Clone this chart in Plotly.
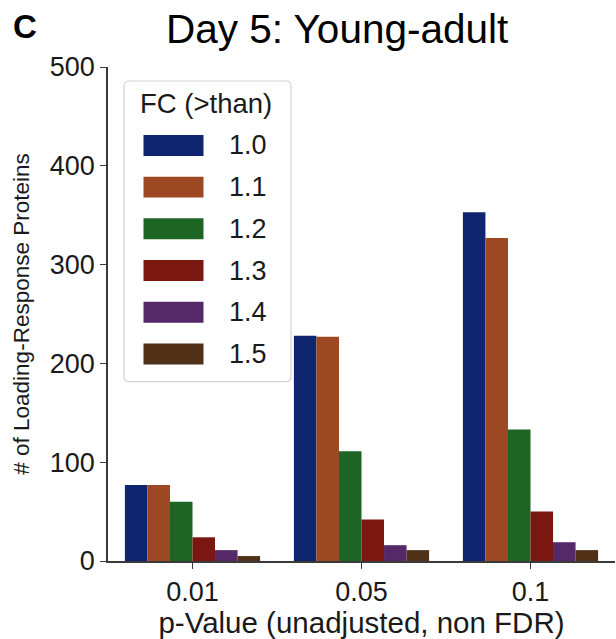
import plotly.graph_objects as go

# ---- data ----
categories = ["0.01", "0.05", "0.1"]
fc_labels = ["1.0", "1.1", "1.2", "1.3", "1.4", "1.5"]
fc_1_0 = [77, 228, 353]
fc_1_1 = [77, 227, 327]
fc_1_2 = [60, 111, 133]
fc_1_3 = [24, 42, 50]
fc_1_4 = [11, 16, 19]
fc_1_5 = [5, 11, 11]
series = [fc_1_0, fc_1_1, fc_1_2, fc_1_3, fc_1_4, fc_1_5]
colors = ["#10256f", "#9c4822", "#1e6525", "#7b1711", "#552867", "#503016"]
y_ticks = [0, 100, 200, 300, 400, 500]

# ---- geometry (pixels) ----
W, H = 616, 639
L, R, T, B = 108, 615, 67, 561.5
FONT = "Liberation Sans, Arial, sans-serif"
TXT = "#1a1a1a"


def px_x(x):
    return (x - L) / (R - L)


def px_y(y):
    return (B - y) / (B - T)


fig = go.Figure()
for name, vals, col in zip(fc_labels, series, colors):
    fig.add_trace(go.Bar(x=categories, y=vals, name=name, marker_color=col,
                         marker_line_width=0, showlegend=False))

fig.update_layout(
    width=W, height=H,
    margin=dict(l=L, r=W - R, t=T, b=H - B, pad=0),
    paper_bgcolor="white", plot_bgcolor="white",
    barmode="group", bargap=0.2, bargroupgap=0,
    font=dict(family=FONT, color=TXT, size=27),
)
fig.update_xaxes(
    type="category", range=[-0.5, 2.5], showgrid=False, zeroline=False,
    showline=True, linecolor="#3a3a3a", linewidth=1.6,
    ticks="outside", ticklen=6, tickwidth=1.4, tickcolor="#3a3a3a",
    tickfont=dict(size=27, color=TXT),
    title=dict(text="p-Value (unadjusted, non FDR)", font=dict(size=29.5, color=TXT), standoff=2),
)
fig.update_yaxes(
    range=[0, 500], tickvals=y_ticks, showgrid=False, zeroline=False,
    showline=True, linecolor="#3a3a3a", linewidth=1.6,
    ticks="outside", ticklen=6, tickwidth=1.4, tickcolor="#3a3a3a",
    tickfont=dict(size=27, color=TXT),
    title=dict(text="# of Loading-Response Proteins", font=dict(size=22.5, color=TXT), standoff=14),
)

annotations = []
shapes = []

# Title
annotations.append(dict(text="Day 5: Young-adult", xref="paper", yref="paper",
                        x=px_x(336.5), y=px_y(29), xanchor="center", yanchor="middle",
                        showarrow=False, font=dict(size=40.5, color="#000000")))
# Panel letter
annotations.append(dict(text="<b>C</b>", xref="paper", yref="paper",
                        x=px_x(25), y=px_y(26), xanchor="center", yanchor="middle",
                        showarrow=False, font=dict(size=33, color="#000000")))

# Custom legend box (rounded)
bx0, bx1, by0, by1, r = 124, 291, 81, 382, 5
rx = r / (R - L)
ry = r / (B - T)
X0, X1, Y0, Y1 = px_x(bx0), px_x(bx1), px_y(by1), px_y(by0)
path = (f"M {X0+rx},{Y0} L {X1-rx},{Y0} Q {X1},{Y0} {X1},{Y0+ry} "
        f"L {X1},{Y1-ry} Q {X1},{Y1} {X1-rx},{Y1} L {X0+rx},{Y1} "
        f"Q {X0},{Y1} {X0},{Y1-ry} L {X0},{Y0+ry} Q {X0},{Y0} {X0+rx},{Y0} Z")
shapes.append(dict(type="path", path=path, xref="paper", yref="paper",
                   fillcolor="rgba(255,255,255,0.85)", line=dict(color="#d4d4d4", width=1.2),
                   layer="above"))
annotations.append(dict(text="FC (>than)", xref="paper", yref="paper",
                        x=px_x(206), y=px_y(104), xanchor="center", yanchor="middle",
                        showarrow=False, font=dict(size=27.5, color=TXT)))
row0, step = 145.5, 41.75
for i, (name, col) in enumerate(zip(fc_labels, colors)):
    cy = row0 + i * step
    shapes.append(dict(type="rect", xref="paper", yref="paper",
                       x0=px_x(143.5), x1=px_x(203.5), y0=px_y(cy + 10.5), y1=px_y(cy - 10.5),
                       fillcolor=col, line=dict(width=0), layer="above"))
    annotations.append(dict(text=name, xref="paper", yref="paper",
                            x=px_x(227), y=px_y(cy), xanchor="left", yanchor="middle",
                            showarrow=False, font=dict(size=27, color=TXT)))

fig.update_layout(annotations=annotations, shapes=shapes)
fig.write_html("out.html")
